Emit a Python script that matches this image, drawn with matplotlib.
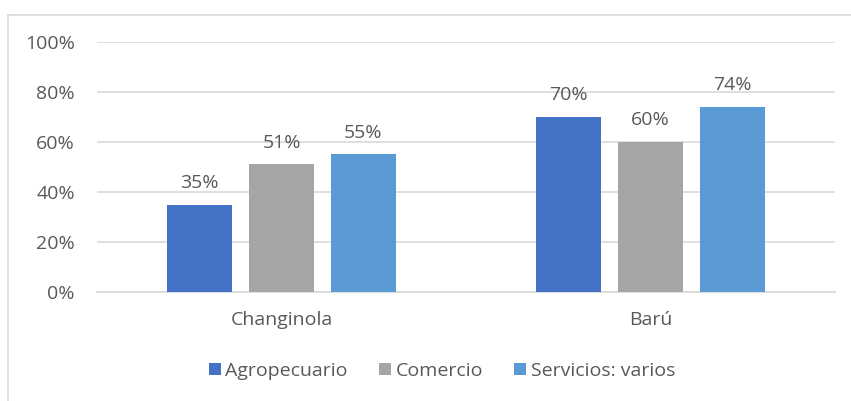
import numpy as np
import matplotlib.pyplot as plt
from matplotlib.patches import Rectangle

categories = ['Changinola', 'Barú']
series = ['Agropecuario', 'Comercio', 'Servicios: varios']
values = {
    'Agropecuario': [0.35, 0.70],
    'Comercio': [0.51, 0.60],
    'Servicios: varios': [0.55, 0.74],
}
colors = ['#4472C4', '#A5A5A5', '#5B9BD5']
yticks = [0, 0.2, 0.4, 0.6, 0.8, 1.0]

plt.rcParams['font.family'] = ['Open Sans', 'DejaVu Sans']
txt = '#595959'
fs = 14

fig = plt.figure(figsize=(8.51, 4.01), dpi=100)
# chart border
fig.patches.append(Rectangle((8 / 851, -0.01), 1.0, 1 - 15 / 401 + 0.01,
                             transform=fig.transFigure, fill=False,
                             edgecolor='#D9D9D9', lw=1.2))
ax = fig.add_axes([97 / 851, 109 / 401, 738 / 851, 250 / 401])

x = np.arange(len(categories))
w = 0.176
step = 0.222
for i, (name, c) in enumerate(zip(series, colors)):
    pos = x + (i - 1) * step
    ax.bar(pos, values[name], width=w, color=c, label=name, zorder=3)
    for p, v in zip(pos, values[name]):
        ax.annotate(f'{v:.0%}', (p, v), xytext=(0, 12),
                    textcoords='offset points', ha='center', va='baseline',
                    fontsize=fs, color=txt)

ax.set_xlim(-0.5, 1.5)
ax.set_ylim(0, 1.0)
ax.set_yticks(yticks)
ax.set_yticklabels([f'{t:.0%}' for t in yticks], fontsize=fs, color=txt)
ax.set_xticks(x)
ax.set_xticklabels(categories, fontsize=fs, color=txt)
ax.tick_params(axis='both', length=0)
ax.tick_params(axis='y', pad=16)
ax.tick_params(axis='x', pad=14)
ax.grid(axis='y', color='#D9D9D9', lw=1.2, zorder=0)
for s in ['top', 'right', 'left']:
    ax.spines[s].set_visible(False)
ax.spines['bottom'].set_color('#D9D9D9')
ax.spines['bottom'].set_linewidth(1.2)

leg = fig.legend(loc='center', bbox_to_anchor=(442 / 851, 1 - 371 / 401),
                 ncol=3, frameon=False, fontsize=fs, handlelength=0.6,
                 handleheight=0.6, columnspacing=1.6, handletextpad=0.25)
for t in leg.get_texts():
    t.set_color(txt)

fig.savefig('out.png', dpi=100)
